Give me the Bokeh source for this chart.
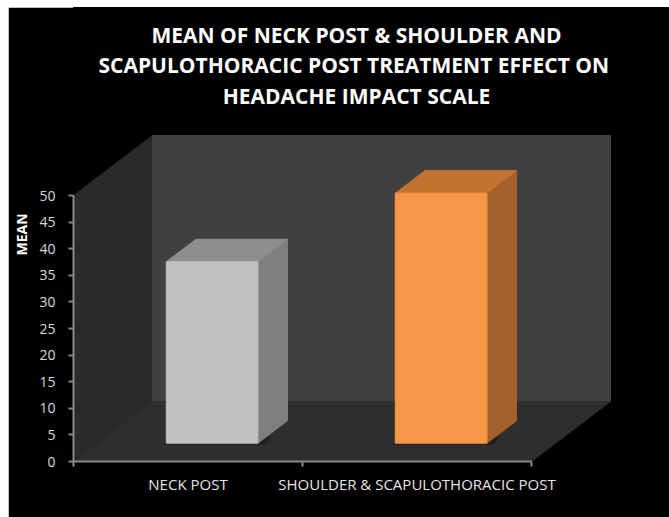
from bokeh.plotting import figure
from bokeh.models import ColumnDataSource, FixedTicker, Label
from bokeh.embed import file_html
from bokeh.resources import INLINE

# ---- data ----
categories = ["NECK POST", "SHOULDER & SCAPULOTHORACIC POST"]
means = [34.1, 47.0]
y_ticks = [0, 5, 10, 15, 20, 25, 30, 35, 40, 45, 50]
title_lines = ["MEAN OF NECK POST & SHOULDER AND",
               "SCAPULOTHORACIC  POST TREATMENT EFFECT ON",
               "HEADACHE IMPACT SCALE"]
y_label = "MEAN"

# ---- styling / geometry ----
front_colors = ["#c0c0c0", "#f79646"]
side_colors = ["#7f7f7f", "#a3622c"]
top_colors = ["#8e8e8e", "#c27332"]

FIG_W, FIG_H = 661, 510
FRAME_L = 65
FRAME_B = 56
FRAME_W = FIG_W - FRAME_L
FRAME_H = FIG_H - FRAME_B
PX_PER_CAT = 229.0
PX_PER_UNIT = 5.32
x_end = FRAME_W / PX_PER_CAT
y_end = FRAME_H / PX_PER_UNIT
D = 79 / PX_PER_CAT      # depth offset in x units
H = 60 / PX_PER_UNIT     # depth offset in y units
Y_MAX = 50
S, E = 0.305, 0.68       # bar depth start / end fraction
HALF_W = 0.2


def page_y(py):
    # page pixel y -> data y (frame bottom at page y = 7 + FRAME_H)
    return (7 + FRAME_H - py) / PX_PER_UNIT


def page_x(px):
    return (px - 8 - FRAME_L) / PX_PER_CAT


p = figure(width=FIG_W, height=FIG_H, output_backend="svg", toolbar_location=None,
           tools="", x_range=(0, x_end), y_range=(0, y_end),
           min_border_left=FRAME_L, min_border_top=0,
           min_border_right=0, min_border_bottom=FRAME_B,
           background_fill_color="black", border_fill_color="black")
p.margin = (7, 0, 0, 8)
p.outline_line_color = "black"
p.xgrid.visible = False
p.ygrid.visible = False

ncat = len(categories)

# walls and floor
walls = ColumnDataSource(dict(
    xs=[[0, D, D, 0],                      # left wall
        [D, ncat + D, ncat + D, D],        # back wall
        [0, ncat, ncat + D, D]],           # floor
    ys=[[0, H, Y_MAX + H, Y_MAX],
        [H, H, Y_MAX + H, Y_MAX + H],
        [0, 0, H, H]],
    c=["#2a2a2a", "#404040", "#2e2e2e"]))
p.patches("xs", "ys", source=walls, fill_color="c", line_color="c", line_width=1)

# bars
fx, fy, sx, sy, tx, ty = [], [], [], [], [], []
for i, v in enumerate(means):
    c = i + 0.5
    l, r = c - HALF_W, c + HALF_W
    fx.append([l + S * D, r + S * D, r + S * D, l + S * D])
    fy.append([S * H, S * H, v + S * H, v + S * H])
    sx.append([r + S * D, r + E * D, r + E * D, r + S * D])
    sy.append([S * H, E * H, v + E * H, v + S * H])
    tx.append([l + S * D, r + S * D, r + E * D, l + E * D])
    ty.append([v + S * H, v + S * H, v + E * H, v + E * H])

# shadows
shx = [[x[0] - 0.01, x[1] + 0.03, x[1] + 0.06, x[0] + 0.02] for x in fx]
shy = [[y[0] - 0.3, y[0] - 0.3, y[0] + 1.2, y[0] + 1.2] for y in fy]
p.patches(shx, shy, fill_color="#1c1c1c", line_color=None, fill_alpha=0.8)

p.patches("xs", "ys", source=ColumnDataSource(dict(xs=sx, ys=sy, c=side_colors)),
          fill_color="c", line_color="c")
p.patches("xs", "ys", source=ColumnDataSource(dict(xs=tx, ys=ty, c=top_colors)),
          fill_color="c", line_color="c")
p.patches("xs", "ys", source=ColumnDataSource(dict(xs=fx, ys=fy, c=front_colors)),
          fill_color="c", line_color="c")

# y axis
ya = p.yaxis[0]
ya.bounds = (0, Y_MAX)
ya.ticker = FixedTicker(ticks=y_ticks)
ya.axis_line_color = "#8a8a8a"
ya.axis_line_width = 2
ya.major_tick_line_color = "#8a8a8a"
ya.major_tick_line_width = 2
ya.major_tick_in = 0
ya.major_tick_out = 5
ya.minor_tick_line_color = None
ya.major_label_text_color = "#d9d9d9"
ya.major_label_text_font = "Open Sans"
ya.major_label_text_font_size = "14px"
ya.major_label_standoff = 13
ya.axis_label = y_label
ya.axis_label_text_color = "white"
ya.axis_label_text_font = "Open Sans"
ya.axis_label_text_font_style = "bold"
ya.axis_label_text_font_size = "14px"
ya.axis_label_standoff = 5

# x axis
xa = p.xaxis[0]
xa.bounds = (0, ncat)
xa.ticker = FixedTicker(ticks=[i + 0.5 for i in range(ncat)],
                        minor_ticks=list(range(ncat + 1)))
xa.major_label_overrides = {i + 0.5: c for i, c in enumerate(categories)}
xa.axis_line_color = "#8a8a8a"
xa.axis_line_width = 2
xa.major_tick_line_color = None
xa.major_tick_in = 0
xa.major_tick_out = 0
xa.minor_tick_line_color = "#8a8a8a"
xa.minor_tick_line_width = 2
xa.minor_tick_in = 0
xa.minor_tick_out = 5
xa.major_label_text_color = "#e6e6e6"
xa.major_label_text_font = "Open Sans"
xa.major_label_text_font_size = "15px"
xa.major_label_standoff = 7

# title
for line, by in zip(title_lines, [34, 64.5, 95]):
    p.add_layout(Label(x=page_x(356), y=page_y(by), text=line,
                       text_align="center", text_baseline="alphabetic",
                       text_color="white", text_font="Open Sans",
                       text_font_style="bold", text_font_size="21px"))

open("out.html", "w").write(file_html(p, INLINE))
